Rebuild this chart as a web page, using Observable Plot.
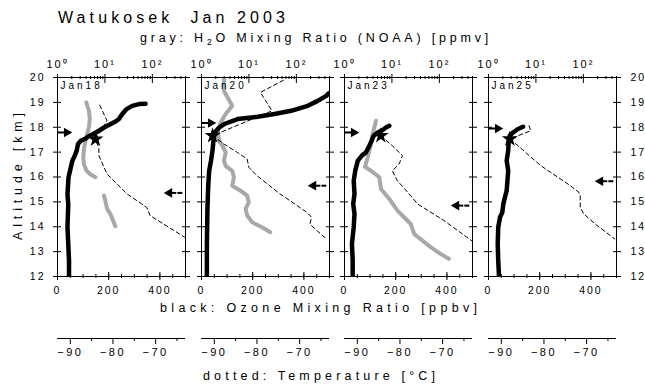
<!DOCTYPE html>
<html><head><meta charset="utf-8">
<script src="https://cdn.jsdelivr.net/npm/d3@7"></script>
<script src="https://cdn.jsdelivr.net/npm/@observablehq/plot@0.6"></script>
<style>
body{margin:0;background:#fff;}
#wrap{position:relative;width:645px;height:385px;overflow:hidden;background:#fff;font-family:"Liberation Sans",Arial,sans-serif;}
#wrap svg{position:absolute;overflow:visible;}
</style></head><body><div id="wrap"></div>
<script>
// ---------------- data ----------------
const dates = ["Jan18", "Jan20", "Jan23", "Jan25"];
const altTicks = [12, 13, 14, 15, 16, 17, 18, 19, 20];
const ozoneTicks = [0, 200, 400];
const ozoneMinorTicks = [0, 50, 100, 150, 200, 250, 300, 350, 400, 450, 500];
const h2oTicks = [1, 10, 100];
const h2oMinorTicks = [2, 3, 4, 5, 6, 7, 8, 9, 20, 30, 40, 50, 60, 70, 80, 90, 200, 300, 400, 500];
const tempTicks = [-90, -80, -70];
const tempMinorTicks = [-85, -75, -65];

// ozone [km, ppbv]
const ozoneJan18 = [[12.0,45],[12.64,45],[13.98,39],[14.9,42],[15.3,39],[15.99,43],[16.25,49],[16.65,58],[16.86,68],[17.06,75],[17.32,80],[17.46,91],[17.55,110],[17.62,119],[17.73,140],[17.86,162],[17.99,182],[18.13,208],[18.23,227],[18.33,240],[18.53,253],[18.73,270],[18.86,292],[18.93,318],[18.94,344]];
const ozoneJan20 = [[12.0,21],[13.31,21],[14.65,23],[15.59,26],[16.25,30],[16.65,37],[17.06,43],[17.39,46],[17.66,50],[17.79,52],[17.99,69],[18.13,89],[18.33,141],[18.42,219],[18.53,285],[18.66,350],[18.86,415],[19.06,454],[19.26,487],[19.36,496]];
const ozoneJan23 = [[12.0,32],[12.64,32],[13.31,29],[13.98,36],[14.52,39],[14.92,34],[15.32,39],[15.85,36],[16.25,42],[16.66,52],[16.86,68],[16.99,84],[17.26,97],[17.46,106],[17.66,114],[17.79,130],[17.89,149],[17.99,162],[18.06,175]];
const ozoneJan25 = [[12.0,41],[12.64,38],[13.31,36],[13.98,38],[14.38,45],[14.58,54],[14.92,58],[15.18,64],[15.45,71],[15.85,74],[16.25,77],[16.66,71],[17.06,77],[17.46,79],[17.66,83],[17.79,96],[17.93,115],[18.02,135]];

// water vapour [km, ppmv]
const h2oJan18a = [[19.0,4.04],[18.66,4.6],[18.33,4.8],[18.0,4.6],[17.73,4.24],[17.46,3.9],[17.12,3.6],[16.79,3.5],[16.52,3.6],[16.25,4.1],[16.1,5.0],[15.99,6.3]];
const h2oJan18b = [[15.25,9.5],[15.05,10.2],[14.72,11.1],[14.52,13.0],[14.25,14.8],[14.02,16.6]];
const h2oJan20 = [[20.0,2.98],[19.46,2.98],[18.86,4.45],[18.53,3.23],[18.19,2.54],[17.86,2.23],[17.46,2.34],[17.26,2.75],[16.99,3.23],[16.66,2.98],[16.45,3.23],[16.25,4.45],[15.99,4.83],[15.65,4.45],[15.45,6.65],[15.25,9.2],[14.98,9.9],[14.72,8.5],[14.45,9.2],[14.18,11.7],[13.98,18.9],[13.78,28.2]];
const h2oJan23 = [[18.26,4.6],[17.99,4.26],[17.73,3.93],[17.32,3.62],[16.79,3.09],[16.41,2.71],[16.25,3.62],[15.99,5.42],[15.52,5.88],[15.12,8.8],[14.65,13.1],[14.11,25],[13.71,29.4],[13.18,65.6],[12.91,106],[12.71,159]];
const h2oJan25 = [];

// temperature [km, degC]
const tempJan18 = [[18.89,-83.1],[18.26,-81.4],[17.52,-84.1],[17.16,-83.3],[16.86,-83.3],[16.12,-81.4],[15.32,-76.7],[14.78,-72.1],[14.45,-71.3],[13.58,-63.2]];
const tempJan20 = [[19.89,-73.8],[19.4,-79.2],[19.0,-77.7],[18.66,-76.5],[17.66,-90.4],[17.32,-87.7],[16.99,-84.6],[16.72,-82.3],[16.39,-81.9],[16.05,-80.0],[15.32,-74.6],[14.58,-68.3],[14.38,-67.2],[14.11,-67.6],[13.85,-66.0],[13.51,-63.7]];
const tempJan23 = [[17.66,-84.5],[17.26,-81.8],[16.86,-79.4],[16.52,-80.2],[16.25,-81.8],[15.85,-80.6],[15.25,-77.5],[14.92,-75.9],[14.25,-69.7],[13.44,-63.2]];
const tempJan25 = [[18.06,-83.5],[17.86,-83.1],[17.53,-88.0],[17.26,-86.1],[16.79,-83.0],[16.45,-80.7],[15.65,-73.8],[15.38,-71.8],[15.25,-71.5],[14.78,-71.5],[14.52,-70.7],[14.11,-68.0],[13.65,-64.5],[13.51,-63.4]];

// tropopause heights [km] (arrows)
const tropLeft = [17.79, 18.17, 17.79, 17.95];
const tropRight = [15.36, 15.65, 14.85, 15.83];

// ---------------- layout ----------------
const M = 40, PW = 128, PH = 199, TOP = 77;
const panelLeft = [57, 201, 344, 488];
const FONT = '"Liberation Sans", Arial, sans-serif';
const wrap = document.getElementById("wrap");
const baseStyle = {background: "transparent", fontFamily: FONT, fontSize: "10.5px", letterSpacing: "2px", overflow: "visible", color: "#000"};
const blank = () => "";
const sup = {1: "10\u2070", 10: "10\u00b9", 100: "10\u00b2"};

const panels = dates.map((d, i) => ({
  date: d,
  ozone: [ozoneJan18, ozoneJan20, ozoneJan23, ozoneJan25][i],
  h2o: [[h2oJan18a, h2oJan18b], [h2oJan20], [h2oJan23], [h2oJan25]][i],
  temp: [tempJan18, tempJan20, tempJan23, tempJan25][i],
  left: tropLeft[i], right: tropRight[i]
}));

function place(svg, x, y) {
  svg.style.left = x + "px";
  svg.style.top = y + "px";
  wrap.appendChild(svg);
}

panels.forEach((p, i) => {
  const L = panelLeft[i];
  const common = {width: PW + 2 * M, height: PH + 2 * M, margin: M, style: baseStyle};

  // water vapour (log scale, top axis)
  const h2oRows = p.h2o.flatMap((seg, s) => seg.map(([km, v]) => ({km, v, s})));
  const h2o = Plot.plot({
    ...common,
    x: {type: "log", domain: [1, 500]},
    y: {domain: [12, 20], axis: null},
    marks: [
      Plot.axisX({anchor: "top", ticks: h2oMinorTicks, tickSize: 3, dy: 1, tickFormat: blank, label: null}),
      Plot.axisX({anchor: "top", ticks: h2oTicks, tickSize: 9, dy: 5, tickFormat: blank, label: null}),
      Plot.axisX({anchor: "top", ticks: h2oTicks, tickSize: 0, tickPadding: 10, tickFormat: d => sup[d], label: null, fontSize: 11}),
      Plot.line(h2oRows, {x: "v", y: "km", z: "s", stroke: "#a8a8a8", strokeWidth: 4, strokeLinejoin: "round", strokeLinecap: "round", clip: true})
    ]
  });
  place(h2o, L - M, TOP - M);

  // ozone (linear, bottom axis) + frame + altitude axes
  const arrowsL = [{km: p.left}], arrowsR = [{km: p.right}];
  const oz = Plot.plot({
    ...common,
    x: {domain: [0, 500]},
    y: {domain: [12, 20]},
    marks: [
      Plot.frame({stroke: "#000", strokeWidth: 1}),
      Plot.axisX({anchor: "bottom", ticks: ozoneMinorTicks, tickSize: 4, dy: -2, tickFormat: blank, label: null}),
      Plot.axisX({anchor: "bottom", ticks: ozoneTicks, tickSize: 8, dy: -4, tickFormat: blank, label: null}),
      Plot.axisX({anchor: "bottom", ticks: ozoneTicks, tickSize: 0, tickPadding: 10, label: null}),
      Plot.axisY({anchor: "left", ticks: altTicks, tickSize: 8, dx: 4, tickFormat: blank, label: null}),
      Plot.axisY({anchor: "right", ticks: altTicks, tickSize: 8, dx: -4, tickFormat: blank, label: null}),
      i === 0 ? Plot.axisY({anchor: "left", ticks: altTicks, tickSize: 0, tickPadding: 12, label: null}) : null,
      i === 3 ? Plot.axisY({anchor: "right", ticks: altTicks, tickSize: 0, tickPadding: 14, label: null}) : null,
      Plot.line(p.ozone, {x: d => d[1], y: d => d[0], stroke: "#000", strokeWidth: 4.5, strokeLinejoin: "round", strokeLinecap: "round", clip: true}),
      // left arrow (pointing right)
      Plot.ruleY(arrowsL, {y: "km", x1: () => 0, x2: () => 32, stroke: "#000", strokeWidth: 2}),
      Plot.dot(arrowsL, {y: "km", x: () => 36, symbol: "triangle", rotate: 90, r: 3.6, fill: "#000"}),
      // right arrow (pointing left) with dashed tail
      Plot.dot(arrowsR, {y: "km", x: () => 437, symbol: "triangle", rotate: -90, r: 3.6, fill: "#000"}),
      Plot.ruleY(arrowsR, {y: "km", x1: () => 440, x2: () => 466, stroke: "#000", strokeWidth: 2}),
      Plot.ruleY(arrowsR, {y: "km", x1: () => 470, x2: () => 500, stroke: "#000", strokeWidth: 2, strokeDasharray: "5,3"}),
      Plot.text([p.date], {frameAnchor: "top-left", dx: 3, dy: 4, textAnchor: "start", lineAnchor: "top", fontSize: 10})
    ]
  });
  oz.querySelectorAll("text").forEach(t => { if (t.textContent === p.date) t.style.letterSpacing = "3px"; });
  place(oz, L - M, TOP - M);

  // temperature (dashed) + cold point star
  const cold = d3.least(p.temp, d => d[1]);
  const tp = Plot.plot({
    ...common,
    x: {domain: [-93, -63], axis: null},
    y: {domain: [12, 20], axis: null},
    marks: [
      Plot.line(p.temp, {x: d => d[1], y: d => d[0], stroke: "#000", strokeWidth: 1, strokeDasharray: "4,3", clip: true}),
      Plot.dot([cold], {x: d => d[1], y: d => d[0], symbol: "star", r: 5, fill: "#000"})
    ]
  });
  place(tp, L - M, TOP - M);

  // separate temperature axis below
  const ta = Plot.plot({
    width: PW + 2 * M, height: 46, marginLeft: M, marginRight: M, marginTop: 5, marginBottom: 40,
    style: {...baseStyle, fontSize: "11px", letterSpacing: "2.5px"},
    x: {domain: [-93, -63]},
    y: {domain: [0, 1], axis: null},
    marks: [
      Plot.ruleY([0], {stroke: "#000", strokeWidth: 1.2}),
      Plot.axisX({anchor: "bottom", ticks: tempMinorTicks, tickSize: 3, tickFormat: blank, label: null}),
      Plot.axisX({anchor: "bottom", ticks: tempTicks, tickSize: 6, tickPadding: 4, label: null})
    ]
  });
  place(ta, L - M, 338 - 6);
});

// ---------------- titles ----------------
const svg = d3.create("svg").attr("width", 645).attr("height", 385)
  .style("left", "0px").style("top", "0px")
  .attr("font-family", FONT).attr("fill", "#000");
svg.append("text").attr("x", 58).attr("y", 23).attr("font-size", 16)
  .attr("textLength", 227).attr("lengthAdjust", "spacing")
  .text("Watukosek\u00a0\u00a0Jan 2003");
const sub = svg.append("text").attr("x", 140).attr("y", 42).attr("font-size", 12.5)
  .attr("letter-spacing", "3.8px");
sub.append("tspan").text("gray: H");
sub.append("tspan").attr("font-size", 8.5).attr("dy", 2.5).text("2");
sub.append("tspan").attr("dy", -2.5).text("O Mixing Ratio (NOAA) [ppmv]");
svg.append("text").attr("x", 160).attr("y", 312).attr("font-size", 12.5)
  .attr("textLength", 317).attr("lengthAdjust", "spacing")
  .text("black: Ozone Mixing Ratio [ppbv]");
svg.append("text").attr("x", 203).attr("y", 380).attr("font-size", 12.5)
  .attr("textLength", 232).attr("lengthAdjust", "spacing")
  .text("dotted: Temperature [\u00b0C]");
svg.append("text").attr("transform", "translate(22,176.5) rotate(-90)")
  .attr("text-anchor", "middle").attr("font-size", 12.5)
  .attr("textLength", 127).attr("lengthAdjust", "spacing")
  .text("Altitude [km]");
wrap.insertBefore(svg.node(), wrap.firstChild);
</script></body></html>
